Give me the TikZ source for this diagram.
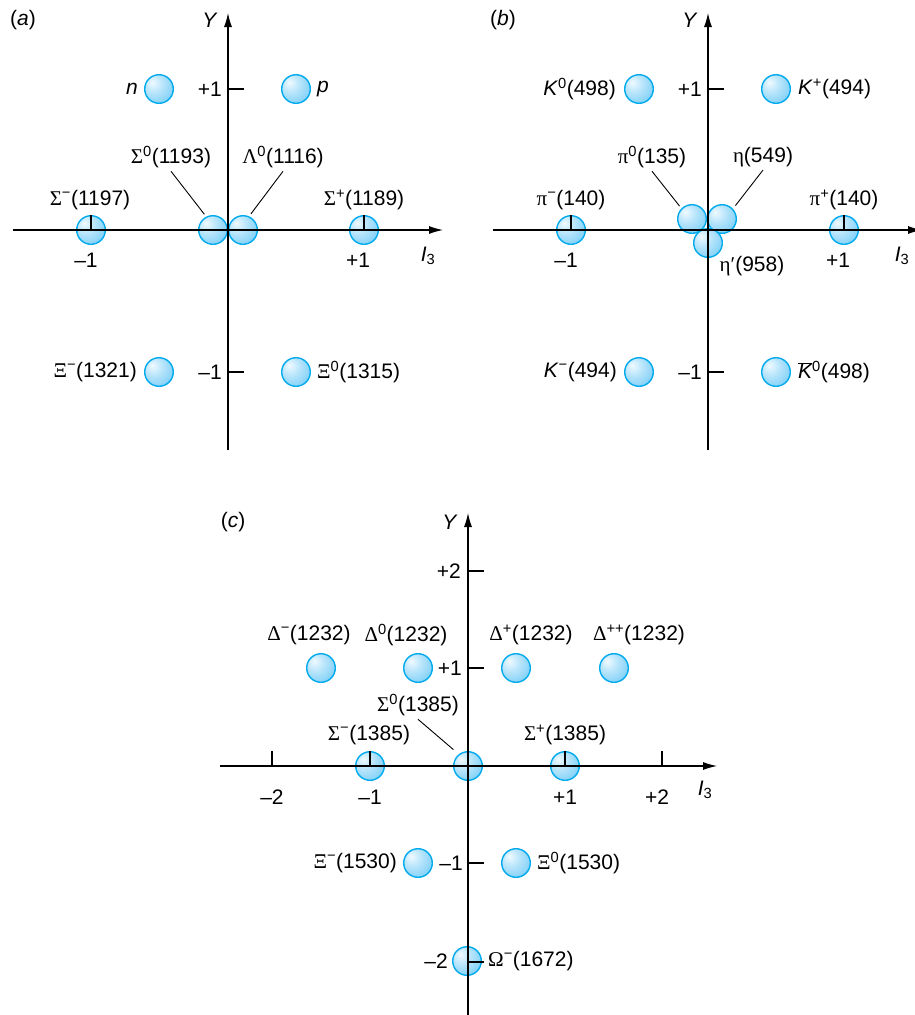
\documentclass[tikz,border=0pt]{standalone}
\usepackage{fontspec}
\setmainfont{Liberation Sans}
\newfontfamily\greekfont{Liberation Serif}
\usetikzlibrary{arrows.meta}
\definecolor{ballhi}{RGB}{240,250,255}
\definecolor{ballmid}{RGB}{185,229,251}
\definecolor{ballblue}{RGB}{100,198,245}
\definecolor{balledge}{RGB}{0,170,236}
\pgfdeclareradialshading{ballshade}{\pgfpoint{-12bp}{12bp}}{color(0bp)=(ballhi); color(16bp)=(ballmid); color(46bp)=(ballblue); color(100bp)=(ballblue)}
\newcommand{\gk}[1]{{\greekfont #1}}
\newcommand{\hsup}[1]{\textsuperscript{#1}}

\begin{document}
\begin{tikzpicture}[x=1pt, y=-1pt,
    ball/.style={circle, draw=balledge, line width=1.4pt, shading=ballshade, minimum size=28.6pt, inner sep=0pt},
    lbl/.style={inner sep=0pt, font=\fontsize{21}{25}\selectfont},
    axis/.style={line width=1.1pt, -{Latex[length=14pt, width=8pt]}},
    tick/.style={line width=1.1pt},
    lead/.style={line width=0.9pt}
]
\useasboundingbox (0,0) rectangle (914,1015);

% === (a) baryon octet ===
\foreach \nm/\x/\y in {n/159/89, p/296/89, asm/91/230, asz/213/230, alz/243/230, asp/364/230, axm/159/372, axz/296/372}
    \node[ball] (\nm) at (\x,\y) {};

\draw[axis] (13,230) -- (443,230);
\draw[axis] (228,450) -- (228,13);
\draw[tick] (228,89) -- (244,89);
\draw[tick] (228,372) -- (244,372);
\draw[tick] (91,230) -- (91,215);
\draw[tick] (364,230) -- (364,215);

\node[lbl] (atitle) at (23,20) {(\textit{a})};
\node[lbl] (ay) at (210,20) {\textit{Y}};
\node[lbl] (ai) at (428,256) {\textit{I}\textsubscript{3}};
\node[lbl, anchor=east] (nlbl) at (138,89) {\textit{n}};
\node[lbl, anchor=west] (plbl) at (317,89) {\textit{p}};
\node[lbl, anchor=east] (ayp) at (222,89) {+1};
\node[lbl, anchor=east] (aym) at (222,372) {–1};
\node[lbl] (asmlbl) at (90,200) {\gk{Σ}\hsup{−}(1197)};
\node[lbl] (asplbl) at (364,200) {\gk{Σ}\hsup{+}(1189)};
\node[lbl] (aszlbl) at (171,157) {\gk{Σ}\hsup{0}(1193)};
\node[lbl] (alzlbl) at (283,157) {\gk{Λ}\hsup{0}(1116)};
\node[lbl] (axm1) at (86,260) {–1};
\node[lbl] (axp1) at (358,260) {+1};
\node[lbl, anchor=east] (axmlbl) at (137,372) {\gk{Ξ}\hsup{−}(1321)};
\node[lbl, anchor=west] (axzlbl) at (317,372) {\gk{Ξ}\hsup{0}(1315)};

\draw[lead, shorten >=3pt] ([yshift=-3pt]aszlbl.south) -- (asz.117);
\draw[lead, shorten >=3pt] ([yshift=-3pt]alzlbl.south) -- (alz.66);

% === (b) meson nonet ===
\foreach \nm/\x/\y in {bk0/639/89, bkp/776/89, bpm/571/230, bpp/844/230, bpz/692/219, beta/722/219, betap/708/243, bkm/639/372, bkb/776/372}
    \node[ball] (\nm) at (\x,\y) {};

\draw[axis] (493,230) -- (922,230);
\draw[axis] (708,450) -- (708,13);
\draw[tick] (708,89) -- (724,89);
\draw[tick] (708,372) -- (724,372);
\draw[tick] (571,230) -- (571,215);
\draw[tick] (844,230) -- (844,215);

\node[lbl] (btitle) at (503,20) {(\textit{b})};
\node[lbl] (by) at (690,20) {\textit{Y}};
\node[lbl] (bi) at (902,256) {\textit{I}\textsubscript{3}};
\node[lbl, anchor=east] (bk0lbl) at (616,89) {\textit{K}\hsup{0}(498)};
\node[lbl, anchor=west] (bkplbl) at (798,89) {\textit{K}\hsup{+}(494)};
\node[lbl, anchor=east] (byp) at (702,89) {+1};
\node[lbl, anchor=east] (bym) at (702,372) {–1};
\node[lbl] (bpzlbl) at (652,157) {\gk{π}\hsup{0}(135)};
\node[lbl] (betalbl) at (763,157) {\gk{η}(549)};
\node[lbl] (bpmlbl) at (571,200) {\gk{π}\hsup{−}(140)};
\node[lbl] (bpplbl) at (844,200) {\gk{π}\hsup{+}(140)};
\node[lbl] (bxm1) at (566,260) {–1};
\node[lbl] (bxp1) at (838,260) {+1};
\node[lbl] (betaplbl) at (752,266) {\gk{η′}(958)};
\node[lbl, anchor=east] (bkmlbl) at (617,372) {\textit{K}\hsup{−}(494)};
\node[lbl, anchor=west] (bkblbl) at (798,372) {$\overline{\textit{K}}$\hsup{0}(498)};

\draw[lead, shorten >=3pt] ([yshift=-3pt]bpzlbl.south) -- (bpz.135);
\draw[lead, shorten >=4pt] ([yshift=-3pt]betalbl.south) -- (beta.43);

% === (c) baryon decuplet ===
\foreach \nm/\x/\y in {cdm/321/668, cdz/418/668, cdp/516/668, cdpp/614/668, csm/370/766, csz/468/766, csp/565/766, cxm/418/863, cxz/516/863, com/467/961}
    \node[ball] (\nm) at (\x,\y) {};

\draw[axis] (220,766) -- (717,766);
\draw[axis] (468,1016) -- (468,513);
\foreach \x in {272,370,565,662}
    \draw[tick] (\x,766) -- (\x,751);
\foreach \y in {571,668,863,962}
    \draw[tick] (468,\y) -- (484,\y);

\node[lbl] (ctitle) at (233,522) {(\textit{c})};
\node[lbl] (cy) at (450,522) {\textit{Y}};
\node[lbl] (ci) at (705,790) {\textit{I}\textsubscript{3}};
\node[lbl, anchor=east] (cyp2) at (461,571) {+2};
\node[lbl, anchor=east] (cyp1) at (462,668) {+1};
\node[lbl] (cdmlbl) at (309,635) {\gk{Δ}\hsup{−}(1232)};
\node[lbl] (cdzlbl) at (406,635) {\gk{Δ}\hsup{0}(1232)};
\node[lbl] (cdplbl) at (531,635) {\gk{Δ}\hsup{+}(1232)};
\node[lbl] (cdpplbl) at (639,635) {\gk{Δ}\hsup{++}(1232)};
\node[lbl] (cszlbl) at (418,705) {\gk{Σ}\hsup{0}(1385)};
\node[lbl] (csmlbl) at (369,735) {\gk{Σ}\hsup{−}(1385)};
\node[lbl] (csplbl) at (565,735) {\gk{Σ}\hsup{+}(1385)};
\node[lbl] (cxm2) at (272,797) {–2};
\node[lbl] (cxm1) at (370,797) {–1};
\node[lbl] (cxp1) at (565,797) {+1};
\node[lbl] (cxp2) at (657,797) {+2};
\node[lbl, anchor=east] (cxmlbl) at (397,863) {\gk{Ξ}\hsup{−}(1530)};
\node[lbl] (cym1) at (451,863) {–1};
\node[lbl, anchor=west] (cxzlbl) at (537,863) {\gk{Ξ}\hsup{0}(1530)};
\node[lbl] (cym2) at (436,961) {–2};
\node[lbl, anchor=west] (comlbl) at (488,961) {\gk{Ω}\hsup{−}(1672)};

\draw[lead, shorten >=7pt] ([yshift=-3pt]cszlbl.south) -- (csz.128);

\end{tikzpicture}
\end{document}
